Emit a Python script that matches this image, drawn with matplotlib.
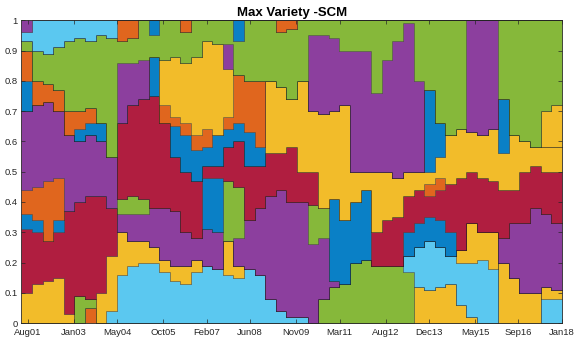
import numpy as np
import matplotlib
matplotlib.use('Agg')
import matplotlib.pyplot as plt

plt.rcParams['font.family'] = ['Liberation Sans', 'DejaVu Sans']

# MATLAB-like palette
BLUE = '#0A80C6'
ORANGE = '#E0661E'
YELLOW = '#F2BC2A'
PURPLE = '#8C3F9E'
GREEN = '#86B83A'
CYAN = '#5BC8F0'
RED = '#B01E40'
EDGE = (0.12, 0.12, 0.12, 0.55)

# time axis (decimal years), one weight column every ~4 months
t_start = 2001.383
t_end = 2018.0
n_cols = 51
col_w = (t_end - t_start) / n_cols
dates = t_start + col_w * np.arange(n_cols)

tick_pos = [2001 + 7/12, 2003.0, 2004 + 4/12, 2005 + 9/12, 2007 + 1/12,
            2008 + 5/12, 2009 + 10/12, 2011 + 2/12, 2012 + 7/12,
            2013 + 11/12, 2015 + 4/12, 2016 + 8/12, 2018.0]
tick_labels = ['Aug01', 'Jan03', 'May04', 'Oct05', 'Feb07', 'Jun08', 'Nov09',
               'Mar11', 'Aug12', 'Dec13', 'May15', 'Sep16', 'Jan18']

# portfolio weights, listed from the bottom of the stack to the top
w_ob = [0, 0, 0, 0, 0, 0, .05] + [0] * 44
w_y0 = [0, 0, 0, 0, 0, 0, 0, 0, 0, 0,
        0, 0, 0, 0, 0, 0, 0, 0, 0, 0,
        0, 0, 0, 0, 0, 0, 0, 0, 0, 0,
        0, 0, 0, 0, 0, 0, 0, .12, .11, .12,
        .13, .06, .02, 0, 0, .20, .15, .10, .10, 0, 0]
w_g0 = [0, 0, 0, 0, 0, .09, .03, 0, 0, 0,
        0, 0, 0, 0, 0, 0, 0, 0, 0, 0,
        0, 0, 0, 0, 0, 0, 0, 0, .08, .12,
        .13, .20, .21, .19, .19, .19, .17, 0, 0, 0,
        0, 0, 0, 0, 0, 0, 0, 0, 0, 0, 0]
w_c0 = [0, 0, 0, 0, 0, 0, 0, 0, .04, .16,
        .19, .20, .20, .17, .14, .13, .17, .19, .18, .16,
        .15, .18, .16, .08, .04, .02, .02, 0, 0, 0,
        0, 0, 0, 0, 0, 0, .05, .13, .16, .13,
        .09, .14, .18, .21, .18, 0, 0, 0, 0, .08, .08]
w_y1 = [.10, .13, .14, .15, .03, 0, 0, .10, .18, .14,
        .08, .07, .05, .04, .05, .06, .04, 0, 0, .11,
        .04, 0, 0, 0, 0, 0, 0, 0, 0, 0,
        0, 0, 0, 0, 0, 0, 0, 0, 0, 0,
        0, .04, .13, .09, .12, 0, 0, 0, 0, .04, .03]
w_r0 = [.21, .17, .13, .15, .34, .31, .34, .32, .16, 0] + [0] * 41
w_ba = [.05, .04, 0, .04] + [0] * 47
w_oa = [.08, .11, .20, .14] + [0] * 47
w_p0 = [.26, .27, .26, .22, .25, .20, .20, .18, .17, .06,
        .09, .09, .13, .17, .18, .11, .07, .12, .12, 0,
        .09, .16, .22, .34, .40, .38, .38, .26, .20, .02,
        0, 0, 0, 0, 0, 0, 0, 0, 0, 0,
        0, 0, 0, 0, 0, .08, .18, .23, .28, .24, .22]
w_g1 = [0, 0, 0, 0, 0, 0, 0, 0, 0, .05,
        .06, .05, 0, 0, 0, 0, 0, 0, 0, .20,
        .17, 0, 0, 0, 0, 0, 0, .13, .10, 0] + [0] * 21
w_b0 = [0, 0, 0, 0, 0, 0, 0, 0, 0, 0,
        0, 0, 0, 0, 0, 0, 0, .17, .18, 0,
        0, 0, 0, 0, 0, 0, 0, 0, 0, .27,
        .21, .20, .23, 0, 0, 0, .08, .08, .08, .09,
        .08, 0, 0, 0, 0, 0, 0, 0, 0, 0, 0]
w_r1 = [0, 0, 0, 0, 0, 0, 0, 0, 0, .25,
        .30, .33, .37, .28, .18, .20, .19, .04, .04, .11,
        .15, .18, .14, .14, .12, .18, .10, .11, 0, 0,
        0, 0, 0, .11, .15, .16, .12, .11, .07, .10,
        .16, .24, .17, .18, .17, .16, .11, .17, .14, .14, .17]
w_o0 = [0] * 38 + [.04, .04] + [0] * 11
w_y2 = [0] * 20 + [
        0, 0, 0, .24, .22, .16, .30, .20, .31, .29,
        .38, .10, .06, .20, .16, .13, .08, .06, .04, .07,
        .16, .16, .13, .14, .17, .12, .18, .10, .06, .08, .08]
w_b1 = [.10, 0, 0, 0, 0, .04, .04, .06, 0, 0,
        0, 0, .13, 0, .10, .12, .10, .06, .10, .06,
        .06, .11, .06, 0, 0, 0, 0, 0, 0, 0,
        0, 0, 0, 0, 0, 0, 0, 0, .27, .11,
        0, 0, 0, 0, 0, .18, 0, 0, 0, 0, 0]
w_o1 = [.10, .08, .06, .07, .08, .06, .05, 0, 0, 0,
        0, 0, 0, .06, .03, .04, .05, .06, 0, .04,
        .16, .17, .22] + [0] * 28
w_y3 = [0] * 13 + [.15, .20, .20, .26, .29, .30, .16] + [0] * 29 + [.12, .14]
w_p1 = [0, 0, 0, 0, 0, 0, 0, 0, 0, .20,
        .14, .13, 0, 0, 0, 0, 0, 0, 0, .08,
        0, 0, 0, 0, 0, 0, 0, .25, .26, .24,
        .18, .40, .40, .26, .37, .45, .49, .30, 0, 0,
        0, 0, .37, .38, .36, 0, 0, 0, 0, 0, 0]
w_g2 = [.03, .10, .10, .14, .23, .24, .22, .29, .39, .07,
        .08, .13, .07, .13, .12, .10, .12, .07, .08, .08,
        .11, .20, .20, .20, .18, .23, .20, .05, .05, .06,
        .10, .10, .10, .24, .13, .07, .01, .20, .23, .34,
        .38, .36, 0, 0, 0, .26, .38, .40, .42, .30, .28]
w_b2 = [0] * 12 + [.05] + [0] * 7 + [.07] + [0] * 30
w_o2 = [0] * 9 + [.07, .06, 0, 0, 0, 0, .04] + [0] * 8 + [.04, .03] + [0] * 25
w_c2 = [.03, .10, .11, .09, .07, .06, .07, .05, .06] + [0] * 42
w_p2 = [.04] + [0] * 50

layers = [
    (w_ob, ORANGE), (w_y0, YELLOW), (w_g0, GREEN), (w_c0, CYAN),
    (w_y1, YELLOW), (w_r0, RED), (w_ba, BLUE), (w_oa, ORANGE),
    (w_p0, PURPLE), (w_g1, GREEN), (w_b0, BLUE), (w_r1, RED),
    (w_o0, ORANGE), (w_y2, YELLOW), (w_b1, BLUE), (w_o1, ORANGE),
    (w_y3, YELLOW), (w_p1, PURPLE), (w_g2, GREEN), (w_b2, BLUE),
    (w_o2, ORANGE), (w_c2, CYAN), (w_p2, PURPLE),
]

weights = np.array([w for w, _ in layers], dtype=float)
weights = weights / weights.sum(axis=0)

fig = plt.figure(figsize=(5.81, 3.43), dpi=100)
ax = fig.add_axes([0.037, 0.058, 0.930, 0.883])

edges = np.append(dates, t_end)
base = np.zeros(n_cols)
for (w, colour), row in zip(layers, weights):
    top = base + row
    ax.fill_between(edges, np.append(base, base[-1]), np.append(top, top[-1]),
                    step='post', facecolor=colour, edgecolor=EDGE,
                    linewidth=0.45)
    base = top

ax.set_xlim(t_start, t_end)
ax.set_ylim(0, 1)
ax.set_xticks(tick_pos)
ax.set_xticklabels(tick_labels)
ax.set_yticks(np.arange(0, 1.01, 0.1))
ax.set_yticklabels(['0', '0.1', '0.2', '0.3', '0.4', '0.5', '0.6', '0.7',
                    '0.8', '0.9', '1'])
ax.tick_params(direction='in', length=3, width=0.5, labelsize=6.8,
               colors='#262626', top=True, right=True)
ax.tick_params(axis='x', pad=3.5)
ax.tick_params(axis='y', pad=2.5)
for s in ax.spines.values():
    s.set_color('#262626')
    s.set_linewidth(0.5)

ax.set_title('Max Variety -SCM', fontsize=9.5, fontweight='bold', pad=3)

fig.savefig('out.png', dpi=100)
